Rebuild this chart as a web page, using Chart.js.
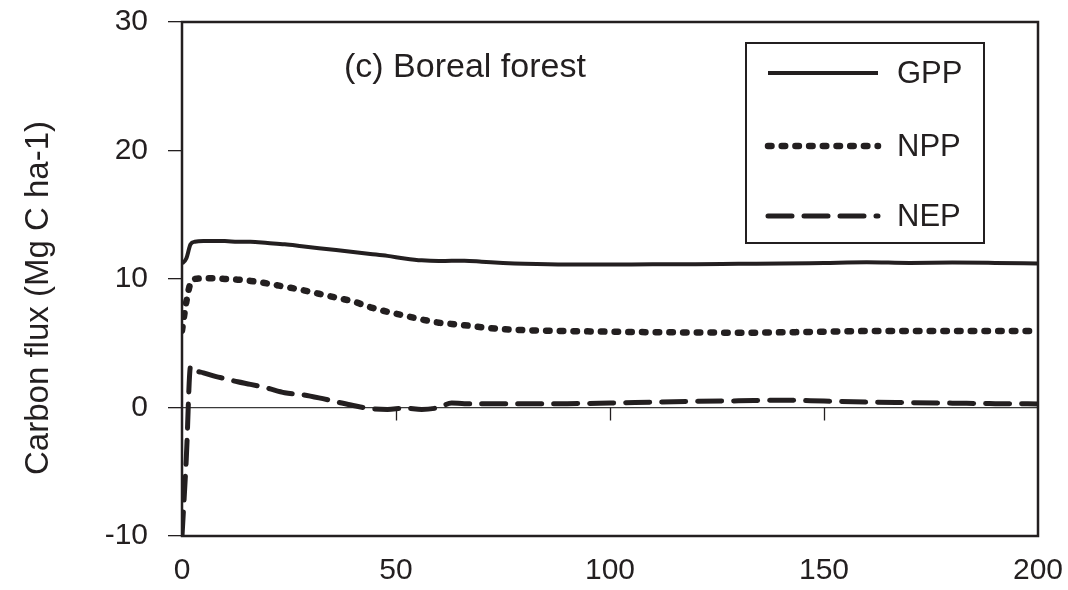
<!DOCTYPE html>
<html>
<head>
<meta charset="utf-8">
<title>Boreal forest carbon flux</title>
<script src="https://cdn.jsdelivr.net/npm/chart.js@4/dist/chart.umd.min.js"></script>
<style>
  html, body { margin: 0; padding: 0; background: #fff; }
  #wrap { width: 1068px; height: 590px; }
</style>
</head>
<body>
<div id="wrap"><canvas id="fluxChart" width="1068" height="590"></canvas></div>
<script>
// Stand age (years) and simulated carbon fluxes (Mg C ha-1)
const years = [0, 1, 2, 3, 5, 8, 10, 13, 16, 20, 24, 28, 32, 36, 40, 44, 48, 52, 56, 60,
  63, 66, 70, 75, 80, 90, 100, 110, 120, 130, 140, 150, 160, 170, 180, 190, 200];
const gpp = [11.2, 11.6, 12.7, 12.9, 12.95, 12.95, 12.95, 12.9, 12.9, 12.8, 12.7, 12.55, 12.4, 12.25, 12.1, 11.95, 11.8, 11.6, 11.45, 11.4,
  11.42, 11.42, 11.35, 11.25, 11.18, 11.12, 11.12, 11.15, 11.15, 11.18, 11.2, 11.25, 11.3, 11.25, 11.28, 11.25, 11.2];
const npp = [6.0, 8.2, 9.7, 10.0, 10.05, 10.05, 10.0, 9.95, 9.85, 9.65, 9.4, 9.15, 8.85, 8.55, 8.25, 7.8, 7.45, 7.15, 6.85, 6.6,
  6.5, 6.4, 6.25, 6.1, 6.02, 5.95, 5.9, 5.86, 5.84, 5.82, 5.85, 5.9, 5.95, 5.96, 5.95, 5.95, 5.95];
const nep = [-10, -4, 3.2, 2.9, 2.7, 2.4, 2.25, 2.0, 1.8, 1.5, 1.15, 1.0, 0.75, 0.45, 0.15, -0.08, -0.15, -0.05, -0.15, 0.0,
  0.35, 0.3, 0.3, 0.3, 0.3, 0.3, 0.35, 0.42, 0.48, 0.52, 0.57, 0.5, 0.42, 0.38, 0.34, 0.3, 0.28];

const seriesNames = ['GPP', 'NPP', 'NEP'];
const xTicks = [0, 50, 100, 150, 200];
const yTicks = [-10, 0, 10, 20, 30];
const panelTitle = '(c) Boreal forest';
const yTitle = 'Carbon flux (Mg C ha-1)';

const ink = '#231f20';
const family = '"Liberation Sans", Arial, Helvetica, sans-serif';

function points(values) {
    return years.map((x, i) => ({ x: x, y: values[i] }));
}

// line styles: solid, round dots, long dashes
const styles = [
    { borderWidth: 4, borderDash: [], borderCapStyle: 'butt' },
    { borderWidth: 6.5, borderDash: [3.5, 10.2], borderCapStyle: 'round' },
    { borderWidth: 5, borderDash: [24, 12], borderCapStyle: 'round' }
];

const datasets = [gpp, npp, nep].map((vals, i) => Object.assign({
    label: seriesNames[i],
    data: points(vals),
    borderColor: ink,
    backgroundColor: ink,
    pointRadius: 0,
    fill: false,
    cubicInterpolationMode: 'monotone',
    borderJoinStyle: 'round'
}, styles[i]));

// plot frame, x tick marks on the zero line, titles and legend box
const framePlugin = {
    id: 'frame',
    beforeDatasetsDraw(chart) {
        const ctx = chart.ctx;
        const x = chart.scales.x, y = chart.scales.y;
        const y0 = y.getPixelForValue(0);
        ctx.save();
        ctx.strokeStyle = ink;
        ctx.lineWidth = 1.3;
        ctx.beginPath();
        xTicks.slice(1, -1).forEach(v => {
            const px = Math.round(x.getPixelForValue(v)) + 0.5;
            ctx.moveTo(px, y0);
            ctx.lineTo(px, y0 + 13);
        });
        ctx.stroke();
        ctx.restore();
    },
    afterDraw(chart) {
        const ctx = chart.ctx;
        const a = chart.chartArea;
        ctx.save();
        ctx.strokeStyle = ink;
        ctx.lineWidth = 2.5;
        ctx.strokeRect(a.left, a.top, a.right - a.left, a.bottom - a.top);

        ctx.fillStyle = ink;

        // y axis title, sits a little below the plot centre
        ctx.save();
        ctx.translate(39, (a.top + a.bottom) / 2 + 19);
        ctx.rotate(-Math.PI / 2);
        ctx.font = '33px ' + family;
        ctx.textAlign = 'center';
        ctx.textBaseline = 'middle';
        ctx.fillText(yTitle, 0, 0);
        ctx.restore();

        ctx.font = '34px ' + family;
        ctx.textBaseline = 'alphabetic';
        ctx.textAlign = 'left';
        ctx.fillText(panelTitle, a.left + 162, a.top + 55);

        // legend
        const bx = a.right - 292, by = a.top + 21, bw = 238, bh = 200;
        ctx.lineWidth = 2;
        ctx.strokeRect(bx, by, bw, bh);
        ctx.font = '31px ' + family;
        ctx.textBaseline = 'middle';
        const rows = [30, 103, 173];
        chart.data.datasets.forEach((ds, i) => {
            const ly = by + rows[i];
            ctx.beginPath();
            ctx.lineWidth = ds.borderWidth;
            ctx.setLineDash(ds.borderDash);
            ctx.lineCap = ds.borderCapStyle;
            ctx.moveTo(bx + 22, ly);
            ctx.lineTo(bx + 132, ly);
            ctx.stroke();
            ctx.setLineDash([]);
            ctx.fillText(ds.label, bx + 151, ly + 1);
        });
        ctx.restore();
    }
};

new Chart(document.getElementById('fluxChart'), {
    type: 'line',
    data: { datasets: datasets },
    plugins: [framePlugin],
    options: {
        responsive: false,
        animation: false,
        devicePixelRatio: 1,
        layout: { padding: { left: 0, right: 30, top: 22, bottom: 0 } },
        plugins: { legend: { display: false }, tooltip: { enabled: false } },
        scales: {
            x: {
                type: 'linear',
                min: 0,
                max: 200,
                afterBuildTicks: s => { s.ticks = xTicks.map(v => ({ value: v })); },
                afterFit: s => {
                    s.height = 54;
                    s.paddingLeft = 0;
                    s.paddingRight = 0;
                },
                grid: { display: false },
                border: { display: false },
                ticks: { color: ink, font: { family: family, size: 30 }, padding: 9, maxRotation: 0 }
            },
            y: {
                min: -10,
                max: 30,
                afterBuildTicks: s => { s.ticks = yTicks.map(v => ({ value: v })); },
                afterFit: s => {
                    s.width = 182;
                    s.paddingTop = 0;
                    s.paddingBottom = 0;
                },
                grid: {
                    color: c => (c.tick && c.tick.value === 0) ? '#3a3a3a' : 'rgba(0,0,0,0)',
                    lineWidth: 1.3,
                    tickColor: ink,
                    tickLength: 14,
                    drawTicks: true
                },
                border: { display: false },
                ticks: { color: ink, font: { family: family, size: 30 }, padding: 20 }
            }
        }
    }
});
</script>
</body>
</html>
